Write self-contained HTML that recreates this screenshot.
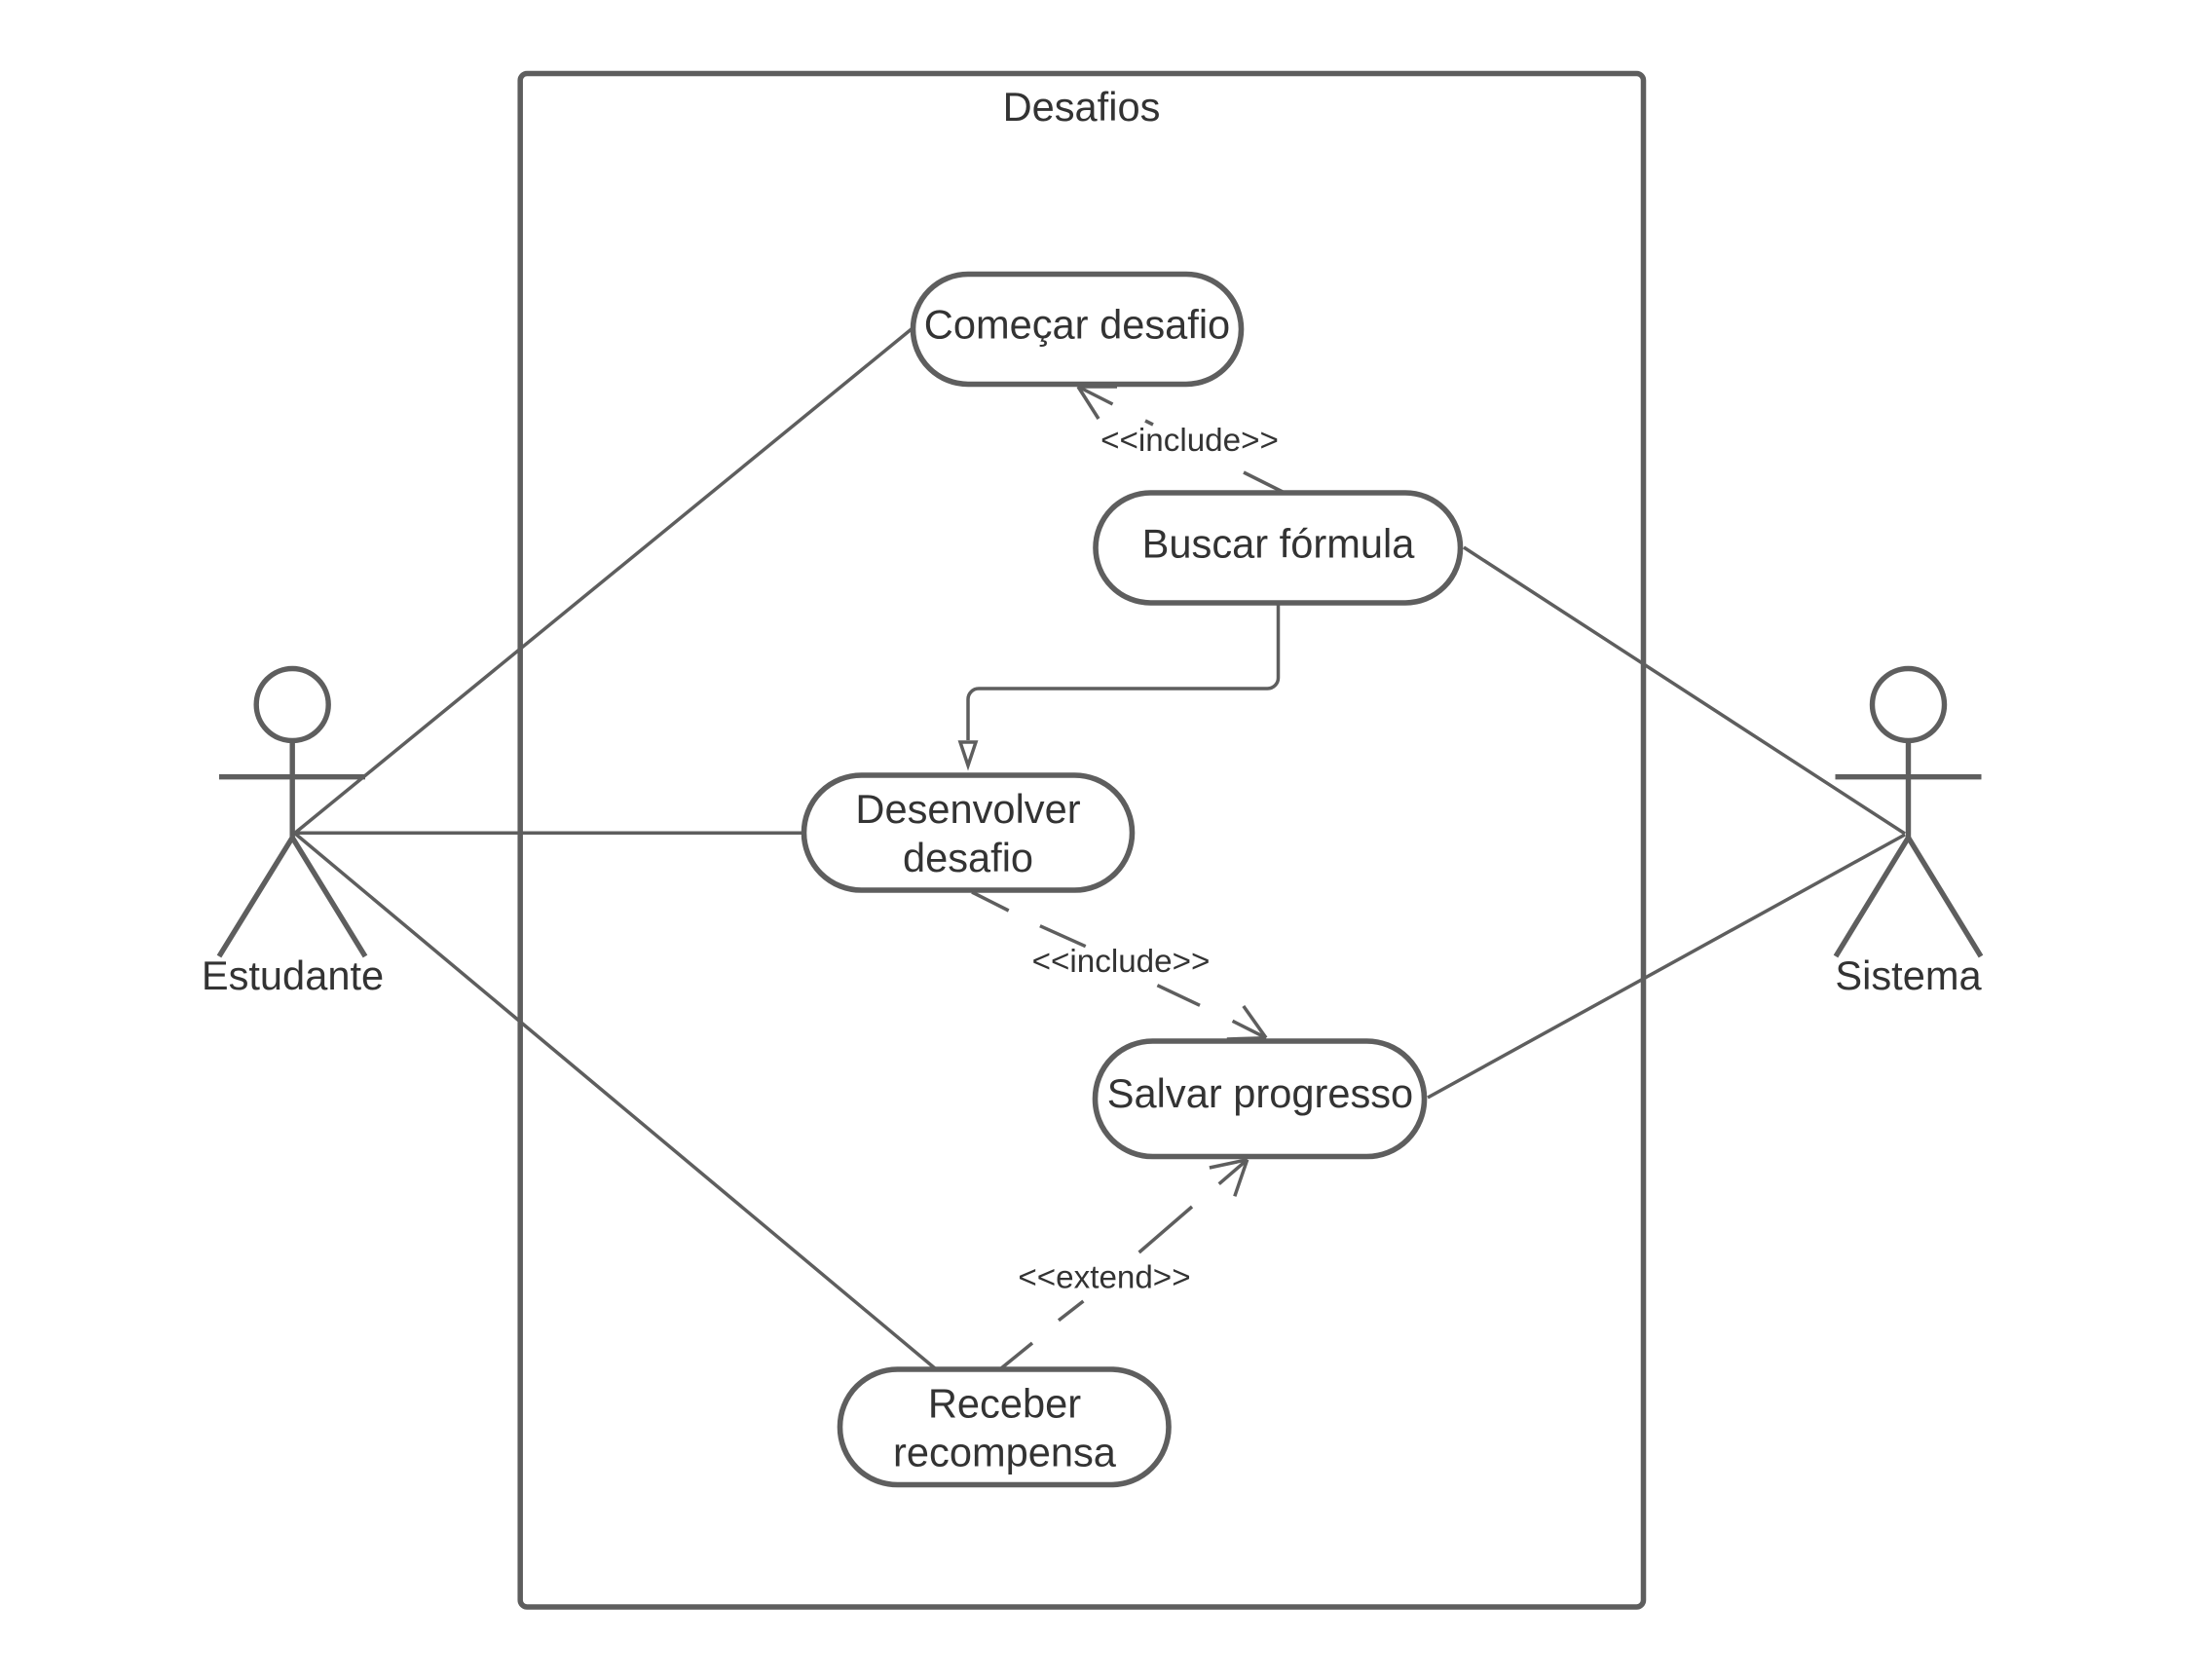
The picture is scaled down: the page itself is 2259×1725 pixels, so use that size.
<!DOCTYPE html>
<html>
<head>
<meta charset="utf-8">
<style>
html,body{margin:0;padding:0;background:#fff;}
svg{display:block;}
text{font-family:"Liberation Sans",sans-serif;fill:#333;text-anchor:middle;}
.t{font-size:41.6px;}
.l{font-size:33.2px;}
.c{stroke:#5e5e5e;stroke-width:3.5;fill:none;}
.s{stroke:#5e5e5e;stroke-width:5.6;fill:#fff;}
.a{stroke:#5e5e5e;stroke-width:5.4;fill:none;}
</style>
</head>
<body>
<svg width="2259" height="1725" viewBox="0 0 2259 1725" xmlns="http://www.w3.org/2000/svg">
<rect width="2259" height="1725" fill="#fff"/>

<!-- frame -->
<rect x="534.2" y="75.5" width="1153.3" height="1582" rx="7" ry="7" fill="none" stroke="#5e5e5e" stroke-width="5.5" style="display:none"/>
<rect x="534.2" y="75.5" width="1153.3" height="1574.5" rx="7" ry="7" fill="none" stroke="#5e5e5e" stroke-width="5.5"/>
<text class="t" x="1110.5" y="124">Desafios</text>

<!-- associations -->
<line class="c" x1="302" y1="856" x2="937" y2="337"/>
<line class="c" x1="302" y1="855.3" x2="825" y2="855.3"/>
<line class="c" x1="302" y1="855" x2="960" y2="1405"/>
<line class="c" x1="1503" y1="562" x2="1956" y2="856"/>
<line class="c" x1="1466" y1="1127" x2="1956" y2="857"/>

<!-- generalization -->
<path class="c" d="M1312.5 620V696a11 11 0 0 1 -11 11H1005a11 11 0 0 0 -11 11V760"/>
<polygon points="986,762 1002,762 994,786" fill="#fff" stroke="#5e5e5e" stroke-width="3.5"/>

<!-- include 1 -->
<g class="c">
<line x1="1107" y1="397" x2="1142.5" y2="415"/>
<line x1="1176" y1="432" x2="1184" y2="436"/>
<line x1="1277" y1="485" x2="1317" y2="505"/>
<line x1="1107" y1="397" x2="1128" y2="430"/>
<line x1="1107" y1="397" x2="1147" y2="397"/>
</g>
<text class="l" x="1221.5" y="463">&lt;&lt;include&gt;&gt;</text>

<!-- include 2 -->
<g class="c">
<line x1="998" y1="916" x2="1035.7" y2="935"/>
<line x1="1067.9" y1="950.7" x2="1114.7" y2="971.7"/>
<line x1="1188.4" y1="1011.7" x2="1232" y2="1032.3"/>
<line x1="1265.6" y1="1048.3" x2="1300" y2="1065.7"/>
<line x1="1300" y1="1065.7" x2="1276.8" y2="1033"/>
<line x1="1300" y1="1065.7" x2="1259.8" y2="1067"/>
</g>
<text class="l" x="1151" y="998">&lt;&lt;include&gt;&gt;</text>

<!-- extend -->
<g class="c">
<line x1="1028" y1="1405" x2="1060" y2="1379"/>
<line x1="1087" y1="1355.7" x2="1112.4" y2="1336"/>
<line x1="1169.6" y1="1286" x2="1224" y2="1239"/>
<line x1="1251.7" y1="1215.7" x2="1280.7" y2="1190.7"/>
<line x1="1280.7" y1="1190.7" x2="1241.9" y2="1199"/>
<line x1="1280.7" y1="1190.7" x2="1267.8" y2="1228.3"/>
</g>
<text class="l" x="1134" y="1322.5">&lt;&lt;extend&gt;&gt;</text>

<!-- use cases -->
<rect class="s" x="937.5" y="281.5" width="337" height="113" rx="56.5" ry="56.5"/>
<text class="t" x="1106" y="347.5">Começar desafio</text>

<rect class="s" x="1125" y="506" width="374.5" height="113" rx="56.5" ry="56.5"/>
<text class="t" x="1312.5" y="572.5">Buscar fórmula</text>

<rect class="s" x="825.5" y="796" width="337" height="118" rx="59" ry="59"/>
<text class="t" x="994" y="845">Desenvolver</text>
<text class="t" x="994" y="895">desafio</text>

<rect class="s" x="1124.5" y="1069" width="338" height="118.5" rx="59" ry="59"/>
<text class="t" x="1294" y="1137">Salvar progresso</text>

<rect class="s" x="862.5" y="1406" width="337.5" height="118.5" rx="59" ry="59"/>
<text class="t" x="1031.5" y="1455.5">Receber</text>
<text class="t" x="1031.5" y="1505.5">recompensa</text>

<!-- left actor -->
<g class="a">
<circle cx="300.2" cy="723.5" r="37"/>
<path d="M300.2 761V860"/>
<path d="M225 797.7H375"/>
<path d="M225 982L300.2 860L375 982"/>
</g>
<text class="t" x="300.5" y="1016">Estudante</text>

<!-- right actor -->
<g class="a">
<circle cx="1959.5" cy="723.5" r="37"/>
<path d="M1959.5 761V860"/>
<path d="M1884.5 797.7H2034.5"/>
<path d="M1885 982L1959.5 860L2034 982"/>
</g>
<text class="t" x="1959.5" y="1016">Sistema</text>
</svg>
</body>
</html>
